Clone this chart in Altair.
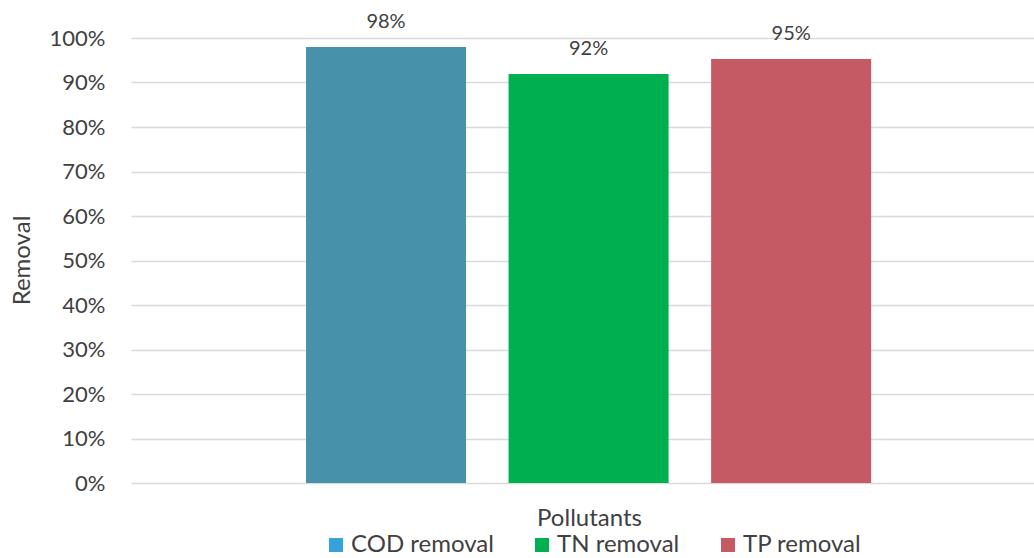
import altair as alt
import pandas as pd

series = ["COD removal", "TN removal", "TP removal"]
values = [0.98, 0.919, 0.953]
labels = ["98%", "92%", "95%"]
bar_colors = ["#4792AA", "#00B050", "#C55A65"]
legend_colors = ["#35A2DC", "#00B050", "#C55A65"]
y_ticks = [0, 0.1, 0.2, 0.3, 0.4, 0.5, 0.6, 0.7, 0.8, 0.9, 1.0]

df = pd.DataFrame({"series": series, "value": values, "label": labels, "zero": [0, 0, 0]})

FONT = "Lato"
TXT = "#404040"

x_enc = alt.X(
    "series:N",
    sort=series,
    scale=alt.Scale(paddingInner=0.21, paddingOuter=0.834, align=0.518),
    axis=alt.Axis(
        title="Pollutants", labels=False, ticks=False, domain=False, grid=False,
        titleFont=FONT, titleFontSize=24, titleFontWeight="normal", titleColor=TXT,
        titleX=458, titleY=35, titleBaseline="middle", titleAnchor="start", titleAlign="center",
    ),
)
y_enc = alt.Y(
    "value:Q",
    scale=alt.Scale(domain=[0, 1], nice=False),
    axis=alt.Axis(
        title="Removal", values=y_ticks, format=".0%", ticks=False, domain=False,
        labelFont=FONT, labelFontSize=22, labelColor=TXT, labelPadding=26,
        gridColor="#D9D9D9", gridWidth=1.5,
        titleFont=FONT, titleFontSize=24, titleFontWeight="normal", titleColor=TXT,
        titleX=-109, titleY=222, titleBaseline="middle", titleAngle=-90, titleAlign="center",
    ),
)

base = alt.Chart(df)

bars = base.mark_bar().encode(
    x=x_enc,
    y=y_enc,
    color=alt.Color("series:N", scale=alt.Scale(domain=series, range=bar_colors), legend=None),
)

text = base.mark_text(font=FONT, fontSize=20, color=TXT, baseline="middle", dy=-25).encode(
    x=alt.X("series:N", sort=series),
    y=alt.Y("value:Q"),
    text="label:N",
)

legend_layer = base.mark_rect().encode(
    x=alt.X("series:N", sort=series),
    y=alt.Y("zero:Q"),
    y2="zero:Q",
    color=alt.Color(
        "series:N",
        scale=alt.Scale(domain=series, range=legend_colors),
        legend=alt.Legend(
            title=None, orient="none", direction="horizontal", legendX=193, legendY=495,
            symbolType="square", symbolSize=196, symbolStrokeWidth=0,
            labelFont=FONT, labelFontSize=24, labelColor=TXT, labelOffset=3,
            columnPadding=36, padding=0,
        ),
    ),
)

chart = (
    alt.layer(bars, text, legend_layer)
    .resolve_scale(color="independent")
    .properties(
        width=903, height=445,
        autosize=alt.AutoSizeParams(type="none"),
        padding={"left": 131, "top": 38, "right": 0, "bottom": 75},
        background="white",
    )
    .configure_view(stroke=None)
)

chart.save("out.html", embed_options={"renderer": "svg", "actions": False})
